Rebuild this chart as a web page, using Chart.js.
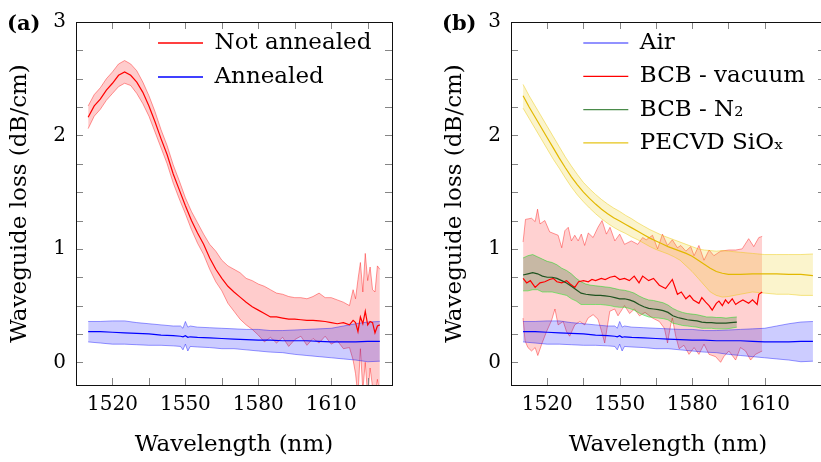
<!DOCTYPE html>
<html><head><meta charset="utf-8">
<script src="https://cdn.jsdelivr.net/npm/chart.js@4.4.1/dist/chart.umd.min.js"></script>
<style>
html,body{margin:0;padding:0;background:#fff;}
body{width:821px;height:462px;overflow:hidden;position:relative;}
canvas{position:absolute;top:0;}
#ca{left:0;} #cb{left:410px;}
.tag{position:absolute;font:bold 21px "DejaVu Serif",serif;color:#000;line-height:24px;}
</style></head><body>
<canvas id="ca" width="410" height="462"></canvas>
<canvas id="cb" width="430" height="462"></canvas>
<div class="tag" style="left:7px;top:11px">(a)</div>
<div class="tag" style="left:442px;top:11px">(b)</div>
<script>
// ---------- tick values / labels ----------
const xTicksA = [1520,1535,1550,1565,1580,1595,1610,1625];
const xTicksB = [1520,1535,1550,1565,1580,1595,1610];
const xLabelVals = [1520,1550,1580,1610];
const yTicks = [0,0.25,0.5,0.75,1,1.25,1.5,1.75,2,2.25,2.5,2.75,3];
const yLabelVals = [0,1,2,3];

// ---------- panel (a) ----------
const legendA = ['Not annealed','Annealed'];
const naWl = [1510,1512.5,1515,1517.5,1520,1522.5,1525,1527.5,1530,1532.5,1535,1537.5,1540,1542.5,1545,1547.5,1550,1552.5,1555,1557.5,1560,1562.5,1565,1567.5,1570,1572.5,1575,1577.5,1580,1582.5,1585,1587.5,1590,1592.5,1595,1597.5,1600,1602.5,1605,1607.5,1610,1612.5,1615,1617.5,1619,1620,1621,1622,1623,1624,1625,1626,1627,1628,1629,1630];
const naMid = [2.16,2.26,2.32,2.40,2.46,2.53,2.56,2.53,2.47,2.38,2.26,2.12,1.97,1.83,1.66,1.52,1.38,1.25,1.14,1.04,0.92,0.82,0.74,0.67,0.62,0.575,0.53,0.49,0.46,0.43,0.40,0.40,0.39,0.38,0.38,0.375,0.37,0.37,0.365,0.36,0.35,0.34,0.35,0.33,0.37,0.35,0.27,0.40,0.34,0.45,0.33,0.36,0.35,0.26,0.32,0.33];
const naUp = [2.26,2.36,2.42,2.50,2.56,2.63,2.66,2.63,2.57,2.47,2.35,2.21,2.05,1.91,1.74,1.60,1.45,1.33,1.23,1.13,1.04,0.98,0.90,0.85,0.82,0.79,0.74,0.72,0.69,0.67,0.64,0.61,0.60,0.58,0.57,0.57,0.56,0.58,0.61,0.57,0.57,0.55,0.53,0.50,0.64,0.56,0.73,0.88,0.62,0.96,0.72,0.84,0.64,0.62,0.85,0.82];
const naLo = [2.06,2.17,2.23,2.31,2.37,2.43,2.46,2.44,2.37,2.28,2.17,2.03,1.89,1.75,1.58,1.44,1.31,1.17,1.05,0.95,0.82,0.71,0.63,0.52,0.45,0.38,0.33,0.29,0.24,0.18,0.22,0.17,0.22,0.14,0.20,0.23,0.15,0.21,0.17,0.23,0.16,0.19,0.12,0.13,0.02,-0.10,-0.30,0.12,-0.25,0.00,-0.30,-0.05,-0.22,-0.30,-0.15,-0.30];
const anWl = [1510,1515,1520,1525,1530,1535,1540,1545,1548,1549,1550,1551,1552,1555,1560,1565,1570,1575,1580,1585,1590,1595,1600,1605,1610,1615,1620,1625,1630];
const anMid = [0.27,0.27,0.265,0.26,0.255,0.25,0.24,0.235,0.23,0.225,0.235,0.22,0.225,0.22,0.215,0.21,0.205,0.20,0.195,0.195,0.19,0.19,0.19,0.185,0.18,0.18,0.18,0.185,0.185];
const anUp = [0.36,0.36,0.365,0.365,0.35,0.34,0.33,0.32,0.32,0.30,0.36,0.31,0.32,0.31,0.305,0.30,0.295,0.29,0.29,0.28,0.28,0.285,0.29,0.295,0.30,0.32,0.34,0.355,0.36];
const anLo = [0.18,0.17,0.16,0.16,0.155,0.15,0.15,0.145,0.14,0.11,0.16,0.10,0.14,0.135,0.13,0.12,0.12,0.11,0.10,0.09,0.085,0.07,0.06,0.05,0.04,0.03,0.02,0.005,0.01];

// ---------- panel (b) ----------
const legendB = ['Air','BCB - vacuum','BCB - N\u2082','PECVD SiO\u2093'];
const airWl = anWl, airMid = anMid, airUp = anUp, airLo = anLo;
const vacWl = [1510,1511.5,1513,1515,1517,1519,1521,1522.5,1524,1526,1528,1529.5,1531.4,1533,1535,1537,1538.5,1540,1542.4,1544,1546,1548,1550,1552,1554,1556,1558,1559.5,1562,1564,1566.4,1569,1571.8,1573.9,1575.5,1577.4,1579,1580.5,1582.8,1584,1585.6,1587,1588.3,1590,1591.1,1592.5,1593.8,1595,1596.6,1598,1599.3,1601,1603.4,1605,1606.9,1607.6,1609];
const vacMid = [0.74,0.70,0.72,0.66,0.70,0.71,0.73,0.74,0.71,0.70,0.72,0.69,0.66,0.71,0.72,0.71,0.73,0.72,0.74,0.73,0.75,0.76,0.73,0.74,0.72,0.76,0.70,0.76,0.72,0.74,0.68,0.65,0.73,0.60,0.62,0.56,0.59,0.55,0.52,0.57,0.53,0.50,0.46,0.52,0.54,0.50,0.55,0.52,0.56,0.51,0.53,0.55,0.52,0.55,0.51,0.60,0.62];
const vacUpWl = [1510,1511,1513.5,1515,1516,1517,1519,1521,1524.5,1526,1527.3,1528.7,1530,1531.4,1532.8,1534.1,1535.5,1537,1539,1541,1542.7,1544.5,1546,1548,1550,1552,1554.8,1557.5,1559.5,1561,1563.6,1565.7,1567.7,1569.8,1571.8,1573.9,1575.3,1577.4,1579.4,1580.8,1582.8,1584.9,1587,1589,1591.8,1595.2,1598,1600.7,1603.4,1605.5,1607.6,1609];
const vacUp = [1.06,1.26,1.27,1.24,1.35,1.22,1.25,1.15,1.12,1.01,1.16,1.19,1.07,1.12,1.07,1.13,1.03,1.14,1.10,1.19,1.25,1.13,1.19,1.07,1.13,1.04,1.07,1.04,1.10,1.08,1.12,1.00,1.13,1.03,1.08,1.01,1.03,0.98,1.02,0.94,1.03,0.90,0.99,0.94,0.98,0.99,0.99,1.00,1.09,1.02,1.10,1.11];
const vacLoWl = [1510,1510.8,1512,1513.5,1515,1516.1,1517.7,1519.7,1521.8,1523.2,1524.5,1526.6,1528,1529.3,1531.4,1533.5,1535.5,1536.9,1539,1541,1542.4,1543.8,1545.9,1547.9,1549.3,1552,1554.1,1556.1,1558.2,1560.5,1563.6,1566.4,1568.5,1569.8,1571.1,1571.8,1573.2,1574.6,1576.6,1578.7,1580.8,1582.8,1584.9,1587,1589.7,1591.8,1593.1,1595.2,1598,1600,1602.1,1604.2,1606.2,1609];
const vacLo = [0.39,0.19,0.13,0.10,0.13,0.06,0.16,0.27,0.37,0.47,0.33,0.36,0.27,0.23,0.33,0.36,0.33,0.39,0.42,0.38,0.28,0.17,0.45,0.47,0.41,0.50,0.43,0.47,0.41,0.44,0.39,0.36,0.30,0.17,0.33,0.39,0.23,0.12,0.15,0.07,0.13,0.07,0.16,0.07,0.05,0.00,0.05,0.10,0.02,0.13,0.10,0.02,0.07,0.10];
const n2Wl = [1510,1512,1514,1516,1518,1520,1522,1524,1526,1528,1530,1532,1534,1536,1538,1540,1542,1544,1546,1548,1550,1552,1554,1556,1558,1560,1562,1564,1566,1568,1570,1572,1574,1576,1578,1580,1582,1584,1586,1588,1590,1592,1594,1596,1598.5];
const n2Mid = [0.77,0.78,0.79,0.78,0.76,0.75,0.75,0.74,0.72,0.70,0.67,0.64,0.61,0.60,0.595,0.59,0.59,0.585,0.58,0.57,0.56,0.56,0.55,0.535,0.51,0.49,0.475,0.47,0.465,0.455,0.44,0.41,0.395,0.385,0.375,0.37,0.365,0.355,0.35,0.35,0.345,0.345,0.345,0.35,0.355];
const n2Up = [0.92,0.94,0.95,0.93,0.91,0.89,0.88,0.86,0.83,0.81,0.78,0.74,0.71,0.69,0.68,0.675,0.67,0.665,0.66,0.65,0.64,0.635,0.625,0.61,0.585,0.565,0.55,0.545,0.535,0.525,0.505,0.475,0.455,0.44,0.43,0.425,0.42,0.41,0.40,0.40,0.395,0.395,0.39,0.395,0.40];
const n2Lo = [0.63,0.63,0.64,0.64,0.62,0.62,0.62,0.61,0.60,0.59,0.56,0.54,0.51,0.51,0.51,0.51,0.51,0.505,0.50,0.49,0.485,0.485,0.475,0.46,0.435,0.415,0.40,0.395,0.39,0.385,0.375,0.345,0.335,0.325,0.32,0.315,0.31,0.30,0.30,0.30,0.295,0.295,0.295,0.30,0.31];
const pecWl = [1510,1512.5,1515,1517.5,1520,1522.5,1525,1527.5,1530,1532.5,1535,1537.5,1540,1542.5,1545,1547.5,1550,1552.5,1555,1557.5,1560,1562.5,1565,1567.5,1570,1572.5,1575,1577.5,1580,1582.5,1585,1587.5,1590,1592.5,1595,1600,1605,1610,1615,1620,1625,1630];
const pecMid = [2.35,2.25,2.16,2.07,1.98,1.89,1.80,1.715,1.635,1.565,1.50,1.445,1.395,1.35,1.31,1.275,1.245,1.215,1.185,1.155,1.125,1.095,1.07,1.045,1.02,1.00,0.98,0.96,0.935,0.90,0.865,0.83,0.80,0.785,0.775,0.775,0.78,0.78,0.78,0.775,0.775,0.765];
const pecUp = [2.45,2.35,2.26,2.17,2.08,1.99,1.90,1.81,1.73,1.655,1.585,1.53,1.48,1.435,1.395,1.36,1.33,1.295,1.265,1.23,1.20,1.17,1.145,1.12,1.10,1.08,1.06,1.04,1.02,1.00,0.99,0.985,0.98,0.985,0.98,0.97,0.96,0.95,0.95,0.95,0.95,0.955];
const pecLo = [2.24,2.15,2.06,1.97,1.88,1.79,1.71,1.625,1.545,1.475,1.415,1.36,1.31,1.265,1.225,1.19,1.16,1.135,1.105,1.08,1.05,1.02,0.995,0.975,0.955,0.93,0.90,0.85,0.80,0.74,0.68,0.62,0.59,0.575,0.58,0.60,0.62,0.61,0.60,0.60,0.59,0.59];

// ---------- helpers ----------
const FONT = '"DejaVu Serif", serif';
function pts(xs, ys) { return xs.map((x, i) => ({x: x, y: ys[i]})); }
function ds(label, xs, ys, color, width, order, fill, bg) {
  return {label: label, data: pts(xs, ys), borderColor: color, borderWidth: width, order: order,
    fill: fill === undefined ? false : fill, backgroundColor: bg || 'transparent',
    pointRadius: 0, pointHoverRadius: 0, tension: 0};
}
function framePlugin(xT) {
  return {id: 'frame', afterDatasetsDraw(chart) {
    const ctx = chart.ctx, a = chart.chartArea, x = chart.scales.x, y = chart.scales.y;
    ctx.save();
    ctx.strokeStyle = '#858585'; ctx.lineWidth = 1;
    ctx.beginPath();
    xT.forEach(v => { const p = Math.round(x.getPixelForValue(v)) + 0.5;
      ctx.moveTo(p, a.bottom); ctx.lineTo(p, a.bottom - 7); ctx.moveTo(p, a.top); ctx.lineTo(p, a.top + 7); });
    yTicks.forEach(v => { const p = Math.round(y.getPixelForValue(v)) + 0.5;
      ctx.moveTo(a.left, p); ctx.lineTo(a.left + 7, p); ctx.moveTo(a.right, p); ctx.lineTo(a.right - 7, p); });
    ctx.stroke();
    ctx.strokeStyle = '#111'; ctx.lineWidth = 1;
    ctx.strokeRect(Math.round(a.left) + 0.5, Math.round(a.top) + 0.5, Math.round(a.right - a.left), Math.round(a.bottom - a.top));
    ctx.restore();
  }};
}
function legendPosPlugin(lx, ty) {
  return {id: 'legendPos', afterLayout(chart) {
    const lg = chart.legend; if (!lg) return;
    lg.left = lx; lg.top = ty; lg.right = lx + lg.width; lg.bottom = ty + 400;
  }};
}
function makeOptions(cfg) {
  return {
    responsive: false, devicePixelRatio: 1, animation: false, events: [],
    layout: {padding: {top: 13, right: cfg.padRight, bottom: 0, left: 0}},
    plugins: {
      tooltip: {enabled: false},
      legend: {
        position: 'chartArea', align: 'start',
        labels: {
          usePointStyle: true, pointStyleWidth: 45, padding: cfg.legPad, color: '#000',
          font: {family: FONT, size: 23},
          generateLabels: () => cfg.names.map((t, i) => ({text: t, strokeStyle: cfg.legColors[i], fillStyle: cfg.legColors[i],
            lineWidth: 1.3, pointStyle: 'line', hidden: false, fontColor: '#000', datasetIndex: i}))
        }
      }
    },
    scales: {
      x: {
        type: 'linear', min: 1505, max: 1635,
        afterBuildTicks: s => { s.ticks = cfg.xT.map(v => ({value: v})); },
        afterFit: s => { s.height = 77; },
        grid: {display: false, drawTicks: false}, border: {display: false},
        ticks: {autoSkip: false, maxRotation: 0, minRotation: 0, padding: 8, color: '#000',
          font: {family: FONT, size: 20}, callback: v => xLabelVals.includes(v) ? String(v) : ''},
        title: {display: true, text: 'Wavelength (nm)', color: '#000', font: {family: FONT, size: 23}, padding: {top: 0, bottom: 3}}
      },
      y: {
        type: 'linear', min: -0.2, max: 3,
        afterBuildTicks: s => { s.ticks = yTicks.map(v => ({value: v})); },
        afterFit: s => { s.width = cfg.yWidth; },
        grid: {display: false, drawTicks: false}, border: {display: false},
        ticks: {autoSkip: false, padding: 10, color: '#000', font: {family: FONT, size: 20},
          callback: v => yLabelVals.includes(v) ? String(v) : ''},
        title: {display: true, text: 'Waveguide loss (dB/cm)', color: '#000', font: {family: FONT, size: 23}, padding: {top: cfg.titlePad, bottom: 0}}
      }
    }
  };
}

// ---------- chart (a) ----------
new Chart(document.getElementById('ca'), {
  type: 'line',
  data: {datasets: [
    ds(legendA[0], naWl, naMid, '#ff0000', 1.2, 1),
    ds(legendA[1], anWl, anMid, '#0000ff', 1.2, 0),
    ds('na-up', naWl, naUp, 'rgba(255,0,0,0.4)', 1, 11),
    ds('na-lo', naWl, naLo, 'rgba(255,0,0,0.4)', 1, 10, 2, 'rgba(255,0,0,0.2)'),
    ds('an-up', anWl, anUp, 'rgba(0,0,255,0.4)', 1, 9),
    ds('an-lo', anWl, anLo, 'rgba(0,0,255,0.4)', 1, 8, 4, 'rgba(0,0,255,0.2)')
  ]},
  options: makeOptions({padRight: 18, yWidth: 76, titlePad: 6, xT: xTicksA, legPad: 11,
    names: legendA, legColors: ['#ff0000', '#0000ff']}),
  plugins: [framePlugin(xTicksA), legendPosPlugin(147, 20.5)]
});

// ---------- chart (b) ----------
new Chart(document.getElementById('cb'), {
  type: 'line',
  data: {datasets: [
    ds(legendB[0], airWl, airMid, '#0000ff', 1.2, 2),
    ds(legendB[1], vacWl, vacMid, '#ff0000', 1.2, 3),
    ds(legendB[2], n2Wl, n2Mid, '#1f531f', 1.2, 1),
    ds(legendB[3], pecWl, pecMid, '#e2b800', 1.2, 0),
    ds('vac-up', vacUpWl, vacUp, 'rgba(255,0,0,0.4)', 1, 21),
    ds('vac-lo', vacLoWl, vacLo, 'rgba(255,0,0,0.4)', 1, 20, 4, 'rgba(255,0,0,0.18)'),
    ds('air-up', airWl, airUp, 'rgba(0,0,255,0.4)', 1, 19),
    ds('air-lo', airWl, airLo, 'rgba(0,0,255,0.4)', 1, 18, 6, 'rgba(0,0,255,0.2)'),
    ds('n2-up', n2Wl, n2Up, 'rgba(40,235,40,0.55)', 1, 17),
    ds('n2-lo', n2Wl, n2Lo, 'rgba(40,235,40,0.55)', 1, 16, 8, 'rgba(0,90,0,0.22)'),
    ds('pec-up', pecWl, pecUp, 'rgba(235,200,0,0.45)', 1, 15),
    ds('pec-lo', pecWl, pecLo, 'rgba(235,200,0,0.45)', 1, 14, 10, 'rgba(235,200,0,0.2)')
  ]},
  options: makeOptions({padRight: 15, yWidth: 101, titlePad: 31, xT: xTicksB, legPad: 10.3,
    names: legendB, legColors: ['#6e6eff', '#ff0000', '#4a8b4a', '#e6c419']}),
  plugins: [framePlugin(xTicksB), legendPosPlugin(163, 21.2)]
});
</script>
</body></html>
